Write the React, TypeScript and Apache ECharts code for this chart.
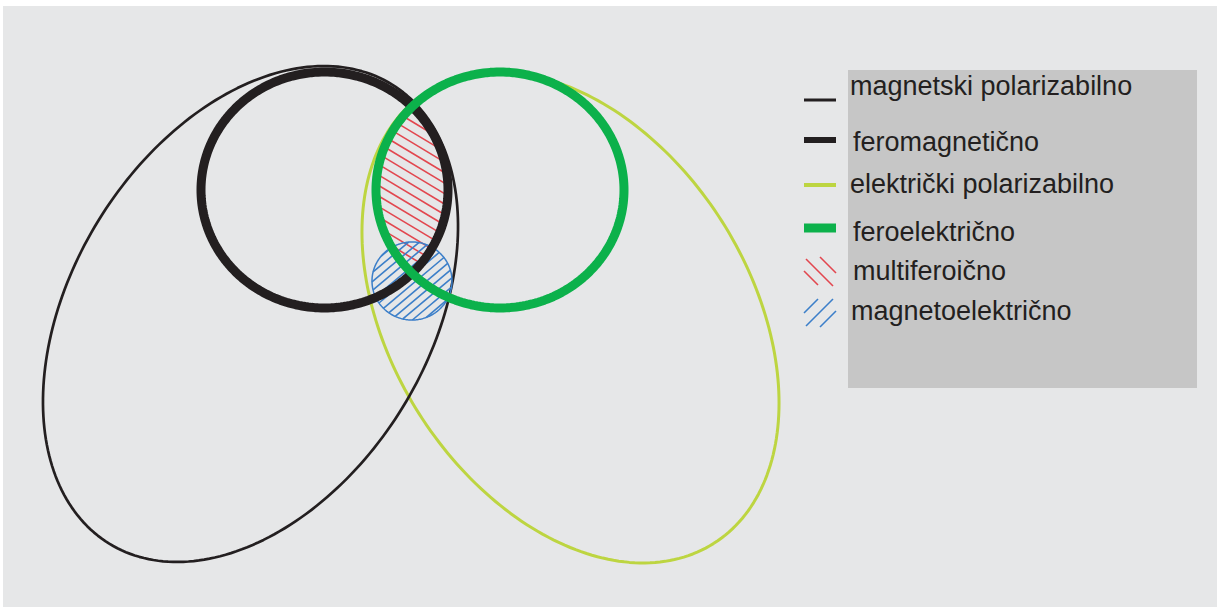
import React, { useEffect, useRef } from "react";
import * as echarts from "echarts";

const W = 1217;
const H = 607;

// legend
const legendLabels = [
  "magnetski polarizabilno",
  "feromagnetično",
  "električki polarizabilno",
  "feroelektrično",
  "multiferoično",
  "magnetoelektrično",
];
const legendTextX = [850, 853, 850, 853, 853, 851];
const legendTextY = [86, 142, 184, 232, 271, 311];

// ellipses: [cx, cy, semi-axis a, semi-axis b, rotation in degrees]
const magneticallyPolarizable = [250.5, 314, 269.6, 178.5, -58.4];
const ferromagnetic = [324.5, 190, 123.5, 118, 0];
const electricallyPolarizable = [570.5, 317.5, 267.5, 179.4, 57.6];
const ferroelectric = [500, 190, 124, 118, 0];
const magnetoelectric = [412, 281, 40, 39, 0];

// hatch: [angle deg, vertical spacing]
const multiferroicHatch = [31, 10.5];
const magnetoelectricHatch = [-40, 9];

const C_BLACK = "#231f20";
const C_LIME = "#bdd541";
const C_GREEN = "#0cb14b";
const C_RED = "#e2474f";
const C_BLUE = "#3c7fc9";

function ellipseRender(color: string, width: number) {
  return (params: any, api: any) => {
    const cx = api.value(0), cy = api.value(1), a = api.value(2), b = api.value(3), deg = api.value(4);
    const phi = (deg * Math.PI) / 180;
    const pts: number[][] = [];
    const N = 240;
    for (let i = 0; i <= N; i++) {
      const t = (2 * Math.PI * i) / N;
      const x = cx + a * Math.cos(t) * Math.cos(phi) - b * Math.sin(t) * Math.sin(phi);
      const y = cy + a * Math.cos(t) * Math.sin(phi) + b * Math.sin(t) * Math.cos(phi);
      pts.push(api.coord([x, y]));
    }
    return {
      type: "polyline",
      shape: { points: pts },
      style: { fill: "none", stroke: color, lineWidth: width, lineJoin: "round" },
    };
  };
}

function clipInterval(p0: number[], d: number[], e: number[]): [number, number] | null {
  const [cx, cy, a, b, deg] = e;
  const phi = (deg * Math.PI) / 180;
  const c = Math.cos(-phi), s = Math.sin(-phi);
  const px = p0[0] - cx, py = p0[1] - cy;
  const qx = c * px - s * py, qy = s * px + c * py;
  const ex = c * d[0] - s * d[1], ey = s * d[0] + c * d[1];
  const A = (ex * ex) / (a * a) + (ey * ey) / (b * b);
  const B = 2 * ((qx * ex) / (a * a) + (qy * ey) / (b * b));
  const C = (qx * qx) / (a * a) + (qy * qy) / (b * b) - 1;
  const disc = B * B - 4 * A * C;
  if (disc <= 0) return null;
  const r = Math.sqrt(disc);
  return [(-B - r) / (2 * A), (-B + r) / (2 * A)];
}

function hatchRender(clips: number[][], hatch: number[], color: string) {
  return (params: any, api: any) => {
    const alpha = (hatch[0] * Math.PI) / 180;
    const d = [Math.cos(alpha), Math.sin(alpha)];
    const n = [-Math.sin(alpha), Math.cos(alpha)];
    const step = hatch[1] * Math.cos(alpha);
    const children: any[] = [];
    for (let k = -250; k <= 250; k++) {
      const cval = k * step;
      const p0 = [cval * n[0], cval * n[1]];
      let lo = -Infinity, hi = Infinity, ok = true;
      for (const e of clips) {
        const iv = clipInterval(p0, d, e);
        if (!iv) { ok = false; break; }
        lo = Math.max(lo, iv[0]);
        hi = Math.min(hi, iv[1]);
      }
      if (!ok || hi <= lo) continue;
      const a1 = api.coord([p0[0] + lo * d[0], p0[1] + lo * d[1]]);
      const a2 = api.coord([p0[0] + hi * d[0], p0[1] + hi * d[1]]);
      children.push({
        type: "line",
        shape: { x1: a1[0], y1: a1[1], x2: a2[0], y2: a2[1] },
        style: { stroke: color, lineWidth: 1.6 },
      });
    }
    return { type: "group", children };
  };
}

export default function App() {
  const ref = useRef<HTMLDivElement>(null);
  useEffect(() => {
    const chart = echarts.init(ref.current!, null, { renderer: "svg" });
    const font = "'Liberation Sans', Arial, sans-serif";
    const graphic: any[] = [
      { type: "rect", z: -10, shape: { x: 3, y: 6, width: W - 3, height: H - 6 }, style: { fill: "#e6e7e8" } },
      { type: "rect", z: -9, shape: { x: 848, y: 70, width: 349, height: 318 }, style: { fill: "#c6c6c6" } },
      { type: "line", shape: { x1: 804, y1: 100, x2: 836, y2: 100 }, style: { stroke: C_BLACK, lineWidth: 3 } },
      { type: "line", shape: { x1: 804, y1: 140, x2: 836, y2: 140 }, style: { stroke: C_BLACK, lineWidth: 6 } },
      { type: "line", shape: { x1: 804, y1: 185, x2: 836, y2: 185 }, style: { stroke: C_LIME, lineWidth: 4 } },
      { type: "line", shape: { x1: 804, y1: 228, x2: 836, y2: 228 }, style: { stroke: C_GREEN, lineWidth: 9 } },
      { type: "line", shape: { x1: 806, y1: 259, x2: 833, y2: 286 }, style: { stroke: C_RED, lineWidth: 1.6 } },
      { type: "line", shape: { x1: 820, y1: 257, x2: 836, y2: 273 }, style: { stroke: C_RED, lineWidth: 1.6 } },
      { type: "line", shape: { x1: 804, y1: 271, x2: 818, y2: 285 }, style: { stroke: C_RED, lineWidth: 1.6 } },
      { type: "line", shape: { x1: 806, y1: 326, x2: 833, y2: 299 }, style: { stroke: C_BLUE, lineWidth: 1.6 } },
      { type: "line", shape: { x1: 804, y1: 313, x2: 818, y2: 299 }, style: { stroke: C_BLUE, lineWidth: 1.6 } },
      { type: "line", shape: { x1: 820, y1: 327, x2: 836, y2: 311 }, style: { stroke: C_BLUE, lineWidth: 1.6 } },
    ];
    legendLabels.forEach((label, i) => {
      graphic.push({
        type: "text",
        x: legendTextX[i],
        y: legendTextY[i],
        style: {
          text: label,
          fill: C_BLACK,
          font: `27px ${font}`,
          fontSize: 27,
          fontFamily: font,
          textAlign: "left",
          textVerticalAlign: "middle",
        },
      });
    });

    const custom = (name: string, data: number[], renderItem: any, z: number) => ({
      type: "custom",
      name,
      coordinateSystem: "cartesian2d",
      data: [data],
      renderItem,
      clip: false,
      silent: true,
      z,
    });

    chart.setOption({
      animation: false,
      backgroundColor: "#ffffff",
      grid: { left: 0, right: 0, top: 0, bottom: 0 },
      xAxis: { type: "value", min: 0, max: W, show: false },
      yAxis: { type: "value", min: 0, max: H, inverse: true, show: false },
      graphic,
      series: [
        custom(legendLabels[2], electricallyPolarizable, ellipseRender(C_LIME, 3), 2),
        custom(legendLabels[0], magneticallyPolarizable, ellipseRender(C_BLACK, 2.7), 3),
        custom(legendLabels[4], [0, 0], hatchRender([ferromagnetic, ferroelectric], multiferroicHatch, C_RED), 4),
        custom(legendLabels[5], [0, 0], hatchRender([magnetoelectric], magnetoelectricHatch, C_BLUE), 5),
        custom(legendLabels[5] + " rub", magnetoelectric, ellipseRender(C_BLUE, 1.5), 6),
        custom(legendLabels[1], ferromagnetic, ellipseRender(C_BLACK, 9), 7),
        custom(legendLabels[3], ferroelectric, ellipseRender(C_GREEN, 9), 8),
      ],
    });
    return () => chart.dispose();
  }, []);
  return <div ref={ref} style={{ position: "fixed", left: 0, top: 0, width: W, height: H }} />;
}
